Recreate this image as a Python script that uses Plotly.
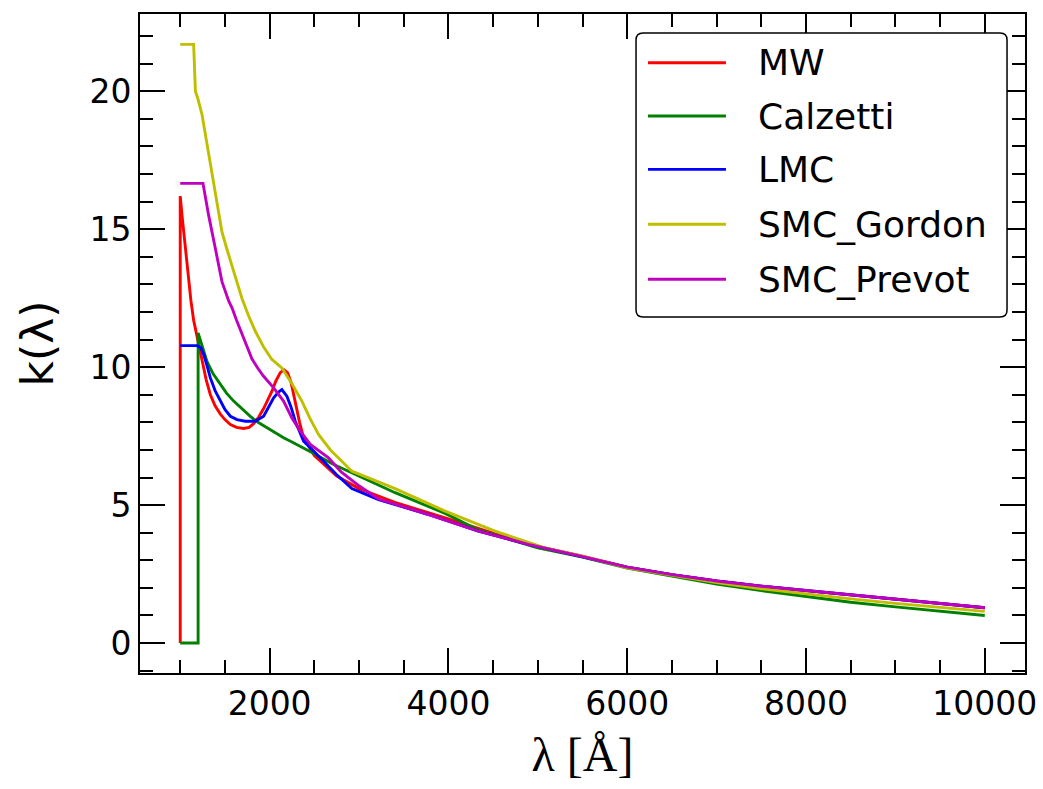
import plotly.graph_objects as go

# ---------------- data ----------------
mw_lam = [1000, 1000, 1020, 1040, 1070, 1095, 1120, 1150, 1200, 1244, 1290, 1337, 1390,
          1449, 1500, 1561, 1630, 1709, 1770, 1821, 1880, 1933, 1980, 2026, 2070, 2119,
          2160, 2200, 2240, 2290, 2335, 2380, 2440, 2500, 2600, 2750, 3000, 3400, 4000,
          4500, 5000, 5500, 6000, 6500, 7000, 7500, 8000, 8500, 9000, 9500, 10000]
mw_k = [0.0, 16.2, 15.5, 14.9, 13.9, 13.1, 12.4, 11.7, 10.9, 10.2, 9.55, 9.0, 8.6,
        8.3, 8.1, 7.92, 7.82, 7.78, 7.82, 7.95, 8.2, 8.5, 8.8, 9.13, 9.5, 9.8,
        9.9, 9.8, 9.45, 8.65, 8.0, 7.44, 7.1, 6.8, 6.5, 6.05, 5.6, 5.1, 4.5,
        3.98, 3.5, 3.15, 2.75, 2.48, 2.25, 2.06, 1.9, 1.74, 1.6, 1.44, 1.28]

calz_lam = [1000, 1200, 1200, 1250, 1300, 1370, 1449, 1520, 1598, 1690, 1784, 1870, 1970,
            2060, 2156, 2250, 2343, 2510, 2700, 2957, 3404, 3963, 4335, 5000, 5500, 6000,
            6500, 7000, 7500, 8000, 8500, 9000, 9500, 10000]
calz_k = [0.0, 0.0, 11.24, 10.7, 10.2, 9.75, 9.37, 9.05, 8.77, 8.48, 8.22, 8.0, 7.8,
          7.62, 7.44, 7.29, 7.14, 6.84, 6.5, 6.11, 5.45, 4.7, 4.1, 3.45, 3.12, 2.72,
          2.42, 2.14, 1.9, 1.68, 1.48, 1.31, 1.15, 1.0]

lmc_lam = [1000, 1190, 1230, 1263, 1300, 1337, 1390, 1449, 1500, 1561, 1635, 1728, 1840,
           1933, 1990, 2045, 2100, 2137, 2193, 2240, 2287, 2380, 2492, 2600, 2750, 2920,
           3218, 3777, 4335, 4894, 5453, 6000, 6500, 7000, 7500, 8000, 8500, 9000, 9500,
           10000]
lmc_k = [10.78, 10.78, 10.7, 10.46, 10.05, 9.61, 9.15, 8.77, 8.47, 8.22, 8.1, 8.04, 8.04,
         8.22, 8.55, 8.89, 9.1, 9.19, 8.95, 8.55, 8.04, 7.32, 6.96, 6.6, 6.1, 5.6,
         5.2, 4.66, 4.06, 3.58, 3.15, 2.75, 2.48, 2.25, 2.06, 1.9, 1.74, 1.6, 1.44,
         1.28]

smcg_lam = [1000, 1150, 1170, 1200, 1244, 1300, 1355, 1410, 1467, 1520, 1579, 1690, 1760,
            1840, 1930, 2026, 2137, 2250, 2361, 2450, 2547, 2680, 2808, 2920, 3106, 3404,
            3963, 4522, 5080, 5500, 6000, 6500, 7000, 7500, 8000, 8500, 9000, 9500, 10000]
smcg_k = [21.7, 21.7, 20.0, 19.7, 19.15, 18.1, 17.0, 15.9, 14.9, 14.3, 13.7, 12.5, 11.9,
          11.3, 10.75, 10.28, 9.97, 9.4, 8.77, 8.15, 7.56, 7.0, 6.59, 6.23, 5.99, 5.6,
          4.78, 4.06, 3.45, 3.15, 2.73, 2.45, 2.19, 1.97, 1.78, 1.6, 1.44, 1.29, 1.15]

smcp_lam = [1000, 1255, 1285, 1318, 1393, 1467, 1542, 1579, 1630, 1690, 1750, 1802, 1870,
            1933, 2045, 2156, 2249, 2343, 2455, 2659, 2800, 3000, 3218, 3777, 4335, 4894,
            5453, 6000, 6500, 7000, 7500, 8000, 8500, 9000, 9500, 10000]
smcp_k = [16.66, 16.66, 16.1, 15.5, 14.3, 13.1, 12.4, 12.15, 11.7, 11.2, 10.7, 10.3, 9.95,
          9.67, 9.25, 8.77, 8.16, 7.68, 7.2, 6.71, 6.2, 5.7, 5.22, 4.66, 4.06, 3.58,
          3.17, 2.75, 2.48, 2.25, 2.06, 1.9, 1.74, 1.6, 1.44, 1.28]

names = ["MW", "Calzetti", "LMC", "SMC_Gordon", "SMC_Prevot"]
lams = [mw_lam, calz_lam, lmc_lam, smcg_lam, smcp_lam]
ks = [mw_k, calz_k, lmc_k, smcg_k, smcp_k]
colors = ["#ff0000", "#008000", "#0000ff", "#bfbf00", "#bf00bf"]

x_ticks = [2000, 4000, 6000, 8000, 10000]
x_ticktext = ["2000", "4000", "6000", "8000", "10000"]
y_ticks = [0, 5, 10, 15, 20]

fig = go.Figure()
for name, lam, k, col in zip(names, lams, ks, colors):
    fig.add_trace(go.Scatter(x=lam, y=k, mode="lines", name=name,
                             line=dict(color=col, width=2.9), showlegend=False))

tickfont = dict(family="DejaVu Sans", size=33, color="black")
common = dict(ticks="inside", ticklen=25, tickwidth=2, tickcolor="black",
              mirror="allticks", showline=True, linewidth=2, linecolor="black",
              showgrid=False, zeroline=False, tickfont=tickfont, automargin=False)

fig.update_xaxes(range=[550, 10450], tickvals=x_ticks, ticktext=x_ticktext,
                 minor=dict(ticks="inside", ticklen=13, tickwidth=2, dtick=500,
                            tick0=0, tickcolor="black", showgrid=False),
                 title=dict(text="λ [Å]", font=dict(family="Liberation Serif", size=48,
                                                  color="black"), standoff=16),
                 **common)
fig.update_yaxes(range=[-1.085, 22.8], tickvals=y_ticks,
                 minor=dict(ticks="inside", ticklen=13, tickwidth=2, dtick=1,
                            tick0=0, tickcolor="black", showgrid=False),
                 title=dict(text="k(λ)", font=dict(family="DejaVu Sans", size=44,
                                                 color="black"), standoff=22),
                 **common)

# ---------------- legend box (matplotlib-style, drawn in paper coords) ----------------
L, R, T, B = 0.5605, 0.9797, 0.9712, 0.5402
rx, ry = 7 / 885, 7 / 659
box_path = (f"M{L + rx},{T} L{R - rx},{T} Q{R},{T} {R},{T - ry} "
            f"L{R},{B + ry} Q{R},{B} {R - rx},{B} "
            f"L{L + rx},{B} Q{L},{B} {L},{B + ry} "
            f"L{L},{T - ry} Q{L},{T} {L + rx},{T} Z")
shapes = [dict(type="path", xref="paper", yref="paper", path=box_path,
               line=dict(color="black", width=1.5), fillcolor="white", layer="above")]
row_y = [0.9261, 0.8452, 0.7643, 0.6809, 0.5974]
annotations = []
for name, col, yy in zip(names, colors, row_y):
    shapes.append(dict(type="line", xref="paper", yref="paper", x0=0.5740, x1=0.6621,
                       y0=yy, y1=yy, line=dict(color=col, width=2.9), layer="above"))
    annotations.append(dict(text=name, xref="paper", yref="paper", x=0.6960, y=yy,
                            xanchor="left", yanchor="middle", showarrow=False,
                            font=dict(family="DejaVu Sans", size=36, color="black")))

fig.update_layout(
    width=1043, height=789,
    margin=dict(l=140, r=18, t=14, b=116),
    plot_bgcolor="white", paper_bgcolor="white",
    shapes=shapes, annotations=annotations,
    showlegend=False,
)

fig.write_html("out.html")
